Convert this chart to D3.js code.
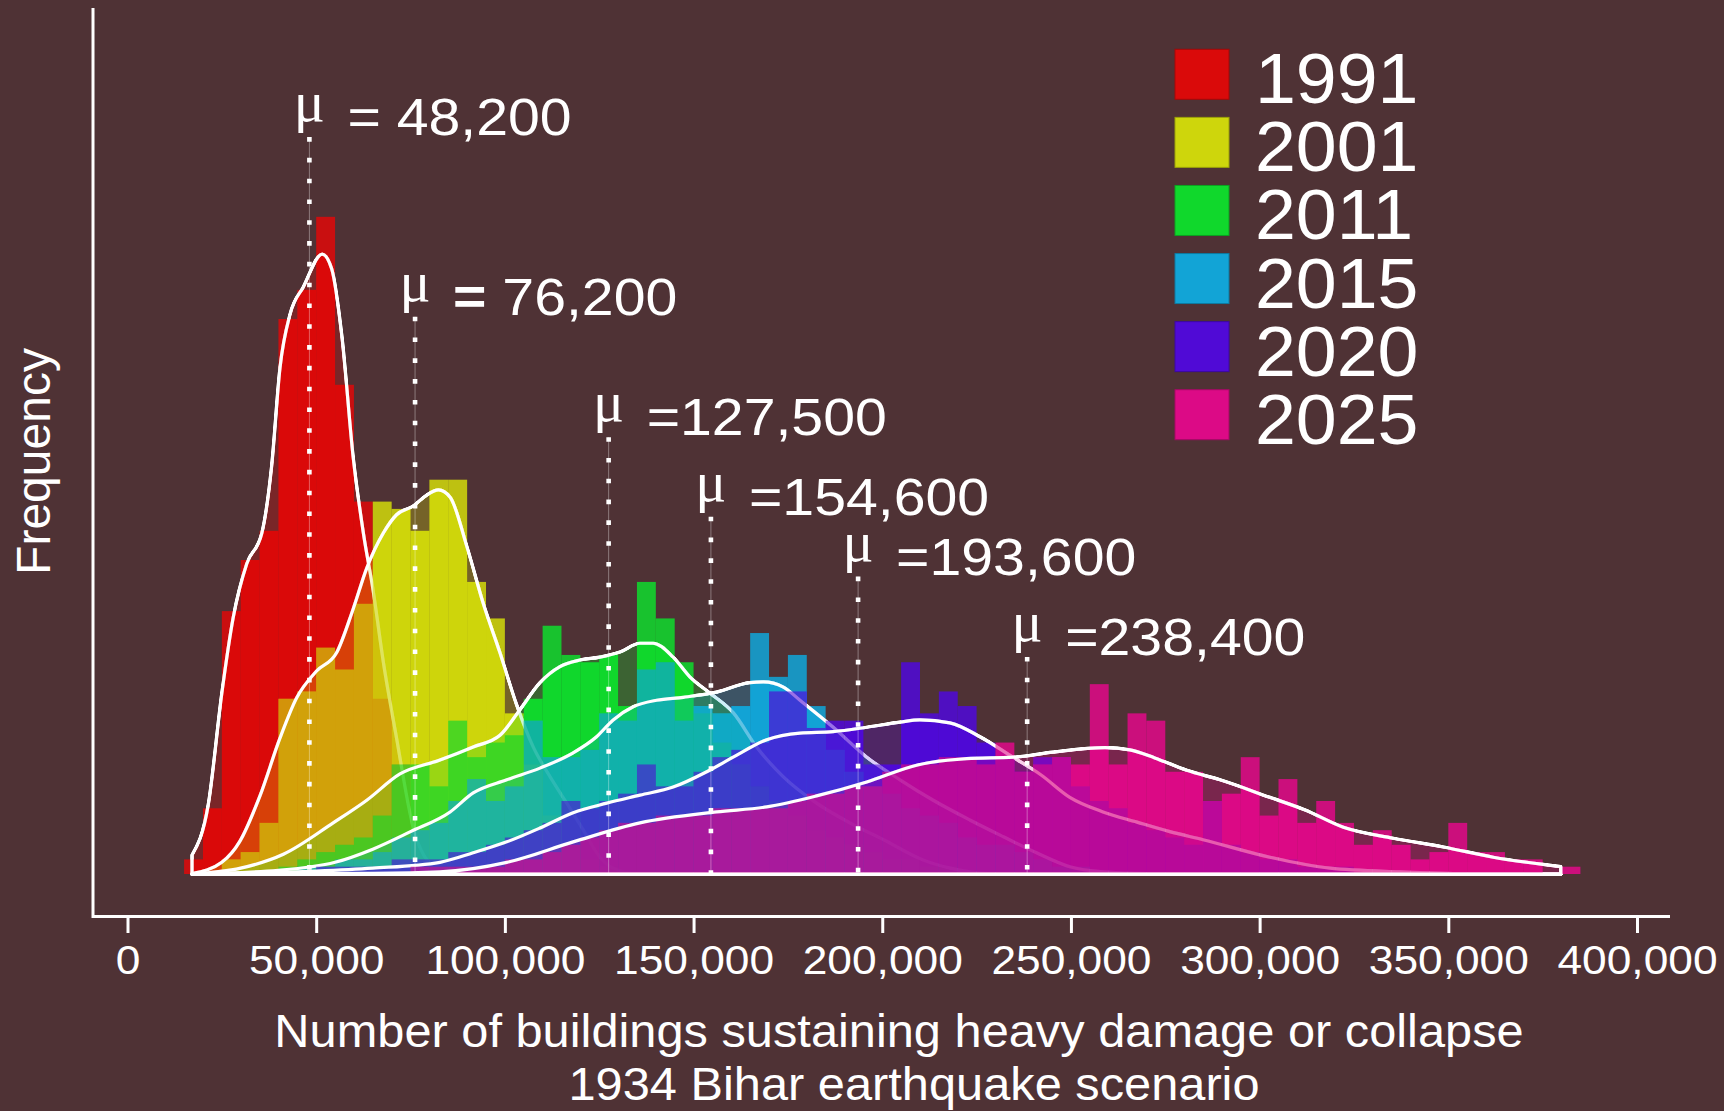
<!DOCTYPE html>
<html><head><meta charset="utf-8">
<script src="https://cdn.jsdelivr.net/npm/d3@7"></script>
<style>html,body{margin:0;padding:0;background:#4f3235;}svg{display:block;}</style>
</head><body>
<svg id="chart" width="1724" height="1111"></svg>
<script>
// ---------------- DATA ----------------
const years = ["1991", "2001", "2011", "2015", "2020", "2025"];
const colors = ["#da0a0a", "#ced60c", "#10d82c", "#12a4d6", "#500ad6", "#dc0a86"];
const binWidth = 5000;
const firstBin = [15000, 25000, 40000, 45000, 50000, 75000];

const counts1991 = [2, 9, 36, 43, 47, 76, 80, 90, 67, 51, 24, 15, 6, 2, 1];
const counts2001 = [2, 3, 7, 24, 25, 31, 28, 37, 51, 50, 47, 54, 54, 40, 35, 22, 15, 8, 4, 2, 1];
const counts2011 = [1, 2, 3, 4, 5, 8, 15, 15, 12, 21, 16, 18, 19, 24, 34, 30, 29, 30, 23, 40, 35, 29, 22, 18, 15, 12, 10, 8, 6, 5, 4, 3, 2, 2, 1, 1];
const counts2015 = [1, 1, 2, 2, 3, 5, 6, 7, 10, 13, 10, 12, 21, 16, 16, 17, 22, 21, 28, 29, 21, 23, 22, 23, 33, 27, 30, 23, 17, 14, 12, 11, 9, 8, 7, 5, 4, 4, 3, 2, 1, 1];
const counts2020 = [1, 1, 1, 1, 2, 2, 2, 3, 3, 4, 5, 6, 7, 10, 9, 10, 11, 15, 12, 12, 14, 16, 17, 18, 25, 25, 20, 21, 21, 15, 15, 29, 22, 25, 23, 18, 16, 14, 16, 16, 12, 10, 9, 7, 6, 5, 4, 10, 4, 3, 2, 2, 1, 1, 1];
const counts2025 = [1, 1, 1, 1, 1, 2, 2, 3, 4, 5, 6, 7, 7, 8, 8, 8, 9, 9, 9, 9, 10, 11, 11, 12, 12, 14, 15, 15, 16, 16, 15, 18, 14, 15, 16, 15, 26, 15, 22, 21, 14, 14, 10, 11, 16, 8, 13, 7, 10, 7, 4, 6, 4, 2, 3, 7, 3, 3, 2, 2, 0, 1];

const density1991 = [[17100,2.6],[21400,9.5],[25000,24.8],[28000,35.1],[31600,42.5],[35600,46.7],[38200,55.9],[40400,69.3],[43100,76.7],[46600,80.4],[51600,84.9],[54100,82.9],[56800,73.7],[59800,57.1],[62500,46.7],[65100,38.8],[67800,29.0],[71300,18.6],[75700,6.4],[80200,1.5],[86000,0.3],[95000,0.05],[379800,0]];
const density2001 = [[17100,0.05],[25000,1.6],[29800,4.5],[35100,10.7],[40400,18.6],[44800,24.1],[50100,27.8],[55400,30.3],[59800,36.3],[63400,41.9],[67800,46.7],[71300,49.2],[75700,50.4],[79300,51.9],[82400,52.6],[85500,51.6],[89900,44.9],[94300,37.0],[98700,30.3],[103100,23.2],[107500,17.4],[112000,13.3],[116400,9.7],[120800,6.0],[125200,2.3],[128700,0.8],[135000,0.05],[379800,0]];
const density2011 = [[17100,0],[30000,0.8],[41300,2.7],[54500,7.0],[63400,10.1],[72200,13.7],[82800,15.6],[91600,17.4],[98700,19.0],[104000,22.5],[109300,26.2],[114600,28.4],[119900,29.3],[125200,29.7],[130500,30.4],[135800,31.6],[139300,31.6],[144600,29.7],[149000,27.0],[154300,24.8],[160500,22.1],[166700,17.4],[173800,13.3],[182600,9.7],[191400,7.0],[200300,4.7],[210900,1.9],[218000,0.8],[228000,0.05],[379800,0]];
const density2015 = [[17100,0],[40000,0.5],[55000,1.6],[65000,3.4],[75000,5.8],[85500,8.5],[91600,11.1],[100500,12.9],[109300,14.5],[118100,16.6],[124300,18.8],[128700,21.1],[134000,22.9],[140200,23.8],[147300,24.2],[156100,24.9],[164900,26.2],[168500,26.3],[173800,25.6],[178200,23.8],[187000,20.1],[195900,16.0],[204700,12.9],[213500,10.1],[223200,7.4],[232100,5.1],[240900,2.9],[249700,1.0],[258500,0.3],[270000,0.05],[379800,0]];
const density2020 = [[17100,0],[50000,0.4],[65000,0.8],[82800,1.6],[91600,2.9],[100500,4.4],[109300,6.3],[118100,8.4],[127000,9.7],[135800,10.8],[144600,11.9],[153500,14.0],[160500,16.0],[169400,18.4],[178200,19.3],[187000,19.5],[195900,20.1],[204700,20.8],[210000,21.1],[217900,20.7],[225900,18.8],[234600,16.0],[242000,13.6],[249700,10.5],[258500,8.5],[267500,7.1],[276200,5.8],[285000,4.7],[302700,2.3],[318600,0.8],[337200,0.3],[355000,0.05],[379800,0]];
const density2025 = [[17100,0],[65000,0.1],[82800,0.3],[100500,1.6],[118100,4.4],[135800,7.0],[156100,8.5],[169400,9.2],[182600,10.7],[195900,12.6],[209100,14.9],[222400,15.8],[234700,16.0],[245300,16.7],[259000,17.3],[265600,17.0],[272200,15.9],[280700,14.2],[289500,12.9],[302700,10.5],[311900,8.8],[322200,6.4],[335400,4.9],[348700,3.7],[361900,2.3],[379800,1.0]];

const means = [48200, 76200, 127500, 154600, 193600, 238400];
const meanLabels = ["= 48,200", "= 76,200", "=127,500", "=154,600", "=193,600", "=238,400"];
const meanLabelLevel = [101.2, 76.6, 60.1, 49.2, 41.0, 30.0];
const meanEqBold = [false, true, false, false, false, false];

const xTicks = [0, 50000, 100000, 150000, 200000, 250000, 300000, 350000, 400000];
const xTickLabels = ["0", "50,000", "100,000", "150,000", "200,000", "250,000", "300,000", "350,000", "400,000"];
const xTitle = ["Number of buildings sustaining heavy damage or collapse", "1934 Bihar earthquake scenario"];
const yTitle = "Frequency";

// ---------------- DRAWING ----------------
const W = 1724, H = 1111;
const SANS = "'Liberation Sans', Arial, Helvetica, sans-serif";
const SERIF = "'Liberation Serif', 'DejaVu Serif', 'Times New Roman', serif";
const BG = "#4f3235";

const x = d3.scaleLinear().domain([0, 400000]).range([127.5, 1637]);
const y = d3.scaleLinear().domain([0, 118.6]).range([874, 8]);

const svg = d3.select("#chart");
svg.append("rect").attr("width", W).attr("height", H).attr("fill", BG);

const defs = svg.append("defs");
const filt = defs.append("filter").attr("id", "boost")
  .attr("filterUnits", "userSpaceOnUse")
  .attr("x", 0).attr("y", 0).attr("width", W).attr("height", H)
  .attr("color-interpolation-filters", "sRGB");
filt.append("feComponentTransfer").append("feFuncA")
  .attr("type", "linear").attr("slope", 1.5).attr("intercept", 0);

const plot = svg.append("g").attr("filter", "url(#boost)");

const countsAll = [counts1991, counts2001, counts2011, counts2015, counts2020, counts2025];
const densAll = [density1991, density2001, density2011, density2015, density2020, density2025];

const area = d3.area()
  .x(d => x(d[0]))
  .y0(y(0))
  .y1(d => y(d[1]))
  .curve(d3.curveMonotoneX);

years.forEach((yr, i) => {
  const g = plot.append("g").attr("class", "series-" + yr);
  const bins = countsAll[i]
    .map((c, j) => ({ x0: firstBin[i] + j * binWidth, x1: firstBin[i] + (j + 1) * binWidth, c }))
    .filter(d => d.c > 0);
  g.selectAll("rect").data(bins).join("rect")
    .attr("x", d => x(d.x0))
    .attr("width", d => x(d.x1) - x(d.x0))
    .attr("y", d => y(d.c))
    .attr("height", d => y(0) - y(d.c))
    .attr("fill", colors[i])
    .attr("fill-opacity", 0.58);
  g.append("path").datum(densAll[i])
    .attr("d", area)
    .attr("fill", colors[i])
    .attr("fill-opacity", 0.2)
    .attr("stroke", "#ffffff")
    .attr("stroke-width", 3.2)
    .attr("stroke-linejoin", "round");
});

// mean lines and labels
const meanG = svg.append("g");
means.forEach((m, i) => {
  const mx = x(m);
  const top = y(meanLabelLevel[i]) + 2;
  meanG.append("line").attr("x1", mx).attr("x2", mx).attr("y1", top).attr("y2", y(0))
    .attr("stroke", "#ffffff").attr("stroke-opacity", 0.35).attr("stroke-width", 1);
  meanG.append("line").attr("x1", mx).attr("x2", mx).attr("y1", top).attr("y2", y(0))
    .attr("stroke", "#ffffff").attr("stroke-width", 4.6).attr("stroke-dasharray", "4.6,16.2");
  meanG.append("text")
    .attr("x", mx).attr("y", y(meanLabelLevel[i]) - 14)
    .attr("text-anchor", "middle")
    .attr("font-family", SERIF).attr("font-size", 58).attr("fill", "#fff")
    .text("μ");
  const t = meanG.append("text")
    .attr("transform", `translate(${mx + 38},${y(meanLabelLevel[i])}) scale(1.1,1)`)
    .attr("font-family", SANS).attr("font-size", 52).attr("fill", "#fff");
  const lbl = meanLabels[i];
  t.append("tspan").attr("font-weight", meanEqBold[i] ? "bold" : "normal").text(lbl.slice(0, 1));
  t.append("tspan").text(lbl.slice(1));
});

// axes frame (L-shaped box)
svg.append("path")
  .attr("d", "M93,8V916.5H1670")
  .attr("fill", "none").attr("stroke", "#fff").attr("stroke-width", 3);

const xAxis = d3.axisBottom(x).tickValues(xTicks)
  .tickFormat((d, i) => xTickLabels[i]).tickSize(15).tickPadding(12);
const ax = svg.append("g").attr("transform", "translate(0,918)").call(xAxis);
ax.select(".domain").remove();
ax.attr("font-size", 41).attr("font-family", SANS);
ax.selectAll(".tick line").attr("stroke", "#fff").attr("stroke-width", 3);
ax.selectAll(".tick text").attr("fill", "#fff").attr("transform", "scale(1.08,1)");

// axis titles
const xCenters = [899, 914];
const xBaselines = [1047, 1100];
xTitle.forEach((s, i) => {
  svg.append("text")
    .attr("transform", `translate(${xCenters[i]},${xBaselines[i]}) scale(1.06,1)`)
    .attr("text-anchor", "middle").attr("font-family", SANS).attr("font-size", 46)
    .attr("fill", "#fff").text(s);
});
svg.append("text")
  .attr("transform", "translate(50,461.5) rotate(-90)")
  .attr("text-anchor", "middle").attr("font-family", SANS).attr("font-size", 48)
  .attr("fill", "#fff").text(yTitle);

// legend
const leg = svg.append("g");
years.forEach((yr, i) => {
  const top = 49.3 + i * 68.08;
  leg.append("rect").attr("x", 1175).attr("y", top).attr("width", 54).attr("height", 50)
    .attr("fill", colors[i]).attr("stroke", d3.color(colors[i]).darker(0.8)).attr("stroke-width", 1);
  leg.append("text")
    .attr("transform", `translate(1255,${top + 25 + 29}) scale(1.05,1)`)
    .attr("font-family", SANS).attr("font-size", 70).attr("fill", "#fff").text(yr);
});
</script>
</body></html>
